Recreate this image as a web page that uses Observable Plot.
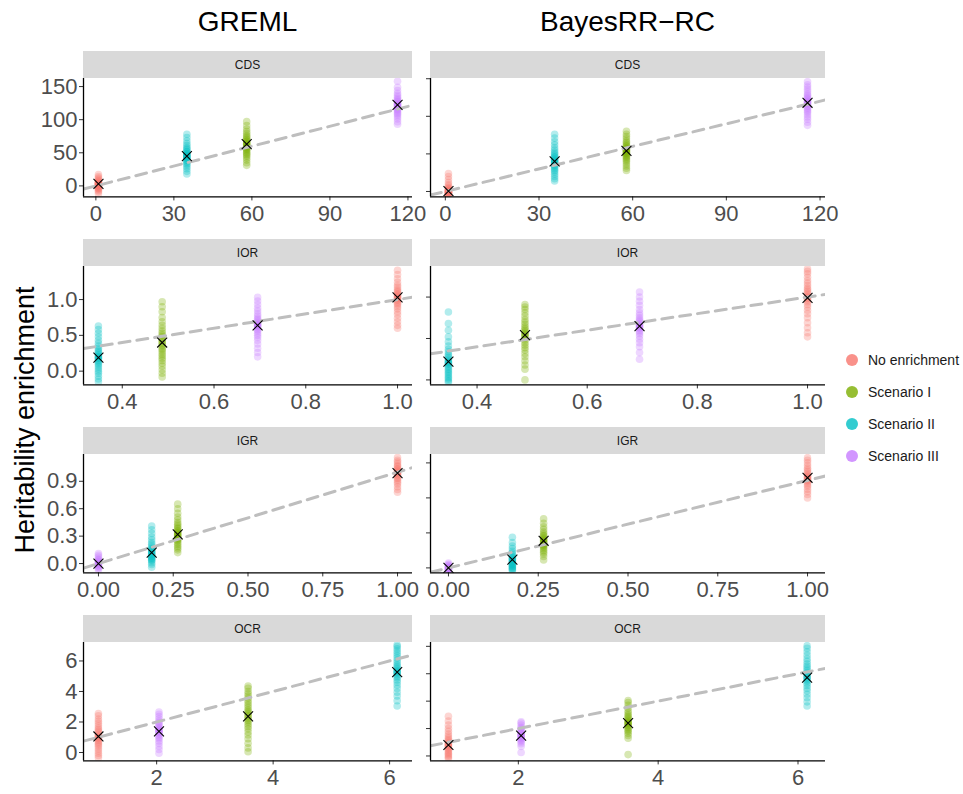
<!DOCTYPE html>
<html>
<head>
<meta charset="utf-8">
<script src="https://cdn.jsdelivr.net/npm/d3@7"></script>
<script src="https://cdn.jsdelivr.net/npm/@observablehq/plot@0.6"></script>
<style>
  body { margin: 0; background: #fff; }
  #chart { position: relative; width: 963px; height: 794px; overflow: hidden;
           font-family: "Liberation Sans", Arial, Helvetica, sans-serif; background: #fff; }
  .title { position: absolute; font-size: 28px; color: #000; transform: translateX(-50%); white-space: nowrap; }
  .ytitle { position: absolute; font-size: 27px; color: #000; white-space: nowrap;
            transform: translate(-50%, -50%) rotate(-90deg); }
  .strip { position: absolute; background: #D9D9D9; color: #1A1A1A; font-size: 12px;
           display: flex; align-items: center; justify-content: center; }
  .legend-row { position: absolute; display: flex; align-items: center; font-size: 14px; color: #1A1A1A; white-space: nowrap; }
  .legend-dot { width: 12px; height: 12px; border-radius: 50%; margin-right: 10px; opacity: 0.8; }
</style>
</head>
<body>
<div id="chart"></div>
<script>
// ---- categories -----------------------------------------------------------
const methods = ["GREML", "BayesRR−RC"];
const annotations = ["CDS", "IOR", "IGR", "OCR"];
const scenarios = ["No enrichment", "Scenario I", "Scenario II", "Scenario III"];
const palette = ["#F8766D", "#7CAE00", "#00BFC4", "#C77CFF"];

// ---- expected enrichment per scenario (order of `scenarios`) ---------------
const expectedCDS = [1, 58, 35, 116];
const expectedIOR = [1.0, 0.487, 0.348, 0.695];
const expectedIGR = [1.0, 0.265, 0.178, 0.0];
const expectedOCR = [1.0, 3.57, 6.13, 2.04];

// ---- replicate estimates, one list per scenario ---------------------------
const gremlCDS = [
  [-12, -9, -7, -5, -4, -3, -2, -1, 0, 0, 1, 1, 2, 2, 3, 3, 4, 4, 5, 6, 7, 8, 10, 12, 14, 17],
  [31, 35, 39, 42, 45, 47, 49, 51, 53, 55, 56, 58, 59, 60, 62, 63, 64, 65, 67, 68, 70, 72, 74, 76, 79, 82, 86, 91, 97],
  [18, 22, 26, 29, 32, 34, 36, 38, 39, 41, 42, 43, 44, 45, 46, 47, 48, 49, 51, 52, 54, 56, 58, 61, 64, 68, 73, 78],
  [93, 97, 101, 104, 107, 109, 111, 113, 115, 116, 118, 119, 120, 121, 122, 123, 124, 125, 127, 128, 130, 132, 134, 137, 140, 144, 149, 158]
];
const gremlCDSMean = [3, 63, 45, 122.5];

const bayesCDS = [
  [-4.5, -4, -3.5, -3, -2.5, -2, -1.5, -1, -0.5, 0, 0, 0.5, 1, 1.5, 2, 3, 4, 5, 7, 9, 12, 16, 20, 24],
  [28, 31, 34, 37, 40, 42, 44, 46, 47, 49, 50, 51, 52, 53, 54, 55, 56, 57, 58, 60, 61, 63, 65, 67, 70, 73, 76, 80],
  [14, 17, 20, 23, 26, 28, 30, 32, 34, 35, 37, 38, 39, 40, 41, 42, 43, 45, 46, 48, 50, 52, 55, 58, 62, 66, 71, 76],
  [88, 92, 96, 99, 102, 105, 107, 109, 111, 113, 114, 116, 117, 118, 119, 120, 121, 123, 124, 126, 128, 130, 133, 136, 139, 142, 146]
];
const bayesCDSMean = [0.5, 54, 40, 118];

const gremlIOR = [
  [0.60, 0.64, 0.69, 0.74, 0.79, 0.83, 0.87, 0.9, 0.93, 0.95, 0.97, 0.99, 1.0, 1.02, 1.03, 1.04, 1.05, 1.07, 1.08, 1.1, 1.12, 1.14, 1.17, 1.2, 1.24, 1.29, 1.35, 1.41],
  [-0.08, -0.03, 0.02, 0.07, 0.11, 0.15, 0.18, 0.21, 0.24, 0.27, 0.3, 0.32, 0.35, 0.37, 0.39, 0.41, 0.43, 0.45, 0.48, 0.5, 0.53, 0.56, 0.6, 0.64, 0.69, 0.75, 0.83, 0.9, 0.97],
  [-0.15, -0.11, -0.07, -0.03, 0.0, 0.03, 0.06, 0.09, 0.11, 0.13, 0.15, 0.17, 0.18, 0.19, 0.2, 0.21, 0.23, 0.25, 0.27, 0.29, 0.32, 0.35, 0.39, 0.43, 0.48, 0.53, 0.58, 0.63],
  [0.2, 0.26, 0.32, 0.38, 0.43, 0.47, 0.5, 0.53, 0.56, 0.58, 0.6, 0.62, 0.63, 0.64, 0.65, 0.66, 0.68, 0.7, 0.72, 0.74, 0.77, 0.8, 0.84, 0.88, 0.93, 0.98, 1.03]
];
const gremlIORMean = [1.03, 0.40, 0.19, 0.64];

const bayesIOR = [
  [0.52, 0.57, 0.63, 0.69, 0.75, 0.8, 0.84, 0.88, 0.91, 0.94, 0.96, 0.98, 0.99, 1.0, 1.01, 1.03, 1.05, 1.07, 1.09, 1.11, 1.14, 1.17, 1.2, 1.24, 1.28, 1.31, 1.34],
  [0.0, 0.13, 0.18, 0.23, 0.28, 0.32, 0.36, 0.39, 0.42, 0.45, 0.48, 0.5, 0.52, 0.54, 0.55, 0.56, 0.58, 0.6, 0.62, 0.64, 0.67, 0.7, 0.73, 0.77, 0.81, 0.85, 0.88, 0.91],
  [-0.03, -0.01, 0.01, 0.03, 0.05, 0.07, 0.09, 0.11, 0.13, 0.15, 0.17, 0.19, 0.2, 0.21, 0.22, 0.23, 0.25, 0.27, 0.29, 0.31, 0.34, 0.37, 0.41, 0.46, 0.52, 0.6, 0.68, 0.82],
  [0.25, 0.33, 0.4, 0.45, 0.49, 0.53, 0.56, 0.58, 0.6, 0.62, 0.63, 0.64, 0.65, 0.66, 0.67, 0.69, 0.71, 0.73, 0.75, 0.78, 0.81, 0.85, 0.9, 0.95, 1.0, 1.06]
];
const bayesIORMean = [0.99, 0.54, 0.22, 0.65];

const gremlIGR = [
  [0.78, 0.81, 0.84, 0.87, 0.89, 0.91, 0.93, 0.94, 0.96, 0.97, 0.98, 0.99, 1.0, 1.01, 1.02, 1.03, 1.04, 1.06, 1.07, 1.09, 1.11, 1.13, 1.16],
  [0.12, 0.15, 0.17, 0.19, 0.21, 0.23, 0.25, 0.26, 0.27, 0.28, 0.29, 0.3, 0.31, 0.32, 0.33, 0.34, 0.35, 0.36, 0.38, 0.39, 0.41, 0.43, 0.45, 0.48, 0.51, 0.55, 0.6, 0.65],
  [-0.04, -0.01, 0.01, 0.03, 0.04, 0.05, 0.06, 0.07, 0.08, 0.09, 0.1, 0.11, 0.12, 0.13, 0.14, 0.15, 0.16, 0.17, 0.19, 0.21, 0.23, 0.26, 0.29, 0.33, 0.37, 0.41],
  [-0.07, -0.05, -0.04, -0.03, -0.02, -0.01, 0.0, 0.0, 0.01, 0.02, 0.03, 0.04, 0.05, 0.07, 0.09, 0.11]
];
const gremlIGRMean = [0.99, 0.32, 0.12, 0.0];

const bayesIGR = [
  [0.8, 0.84, 0.87, 0.9, 0.93, 0.95, 0.97, 0.99, 1.0, 1.01, 1.02, 1.03, 1.04, 1.05, 1.06, 1.08, 1.1, 1.12, 1.14, 1.17, 1.2, 1.23, 1.26],
  [0.09, 0.13, 0.16, 0.18, 0.2, 0.22, 0.24, 0.25, 0.26, 0.27, 0.28, 0.29, 0.3, 0.31, 0.32, 0.33, 0.34, 0.36, 0.37, 0.39, 0.41, 0.44, 0.47, 0.51, 0.56],
  [-0.03, -0.02, -0.01, 0.0, 0.01, 0.02, 0.03, 0.04, 0.05, 0.06, 0.07, 0.08, 0.09, 0.1, 0.11, 0.12, 0.13, 0.15, 0.17, 0.19, 0.22, 0.25, 0.29, 0.35],
  [-0.045, -0.035, -0.025, -0.015, -0.01, 0.0, 0.0, 0.005, 0.01, 0.02, 0.03, 0.04, 0.055]
];
const bayesIGRMean = [1.03, 0.31, 0.095, 0.0];

const gremlOCR = [
  [-0.35, -0.2, -0.05, 0.1, 0.25, 0.4, 0.5, 0.6, 0.7, 0.8, 0.9, 0.95, 1.0, 1.05, 1.1, 1.2, 1.3, 1.4, 1.5, 1.6, 1.75, 1.9, 2.05, 2.2, 2.4, 2.55],
  [0.05, 0.3, 0.6, 0.9, 1.15, 1.35, 1.55, 1.7, 1.85, 2.0, 2.1, 2.2, 2.3, 2.4, 2.5, 2.6, 2.7, 2.8, 2.95, 3.1, 3.25, 3.4, 3.55, 3.7, 3.85, 4.0, 4.2, 4.35],
  [3.05, 3.4, 3.7, 3.95, 4.2, 4.4, 4.6, 4.75, 4.9, 5.0, 5.1, 5.2, 5.25, 5.3, 5.35, 5.45, 5.55, 5.65, 5.75, 5.9, 6.05, 6.2, 6.35, 6.5, 6.65, 6.8, 6.95, 7.05],
  [-0.05, 0.2, 0.4, 0.6, 0.75, 0.9, 1.0, 1.1, 1.2, 1.28, 1.35, 1.4, 1.45, 1.5, 1.57, 1.65, 1.75, 1.85, 1.95, 2.05, 2.2, 2.35, 2.5, 2.65]
];
const gremlOCRMean = [1.05, 2.37, 5.27, 1.38];

const bayesOCR = [
  [-0.2, -0.1, 0.0, 0.1, 0.2, 0.3, 0.4, 0.5, 0.6, 0.68, 0.75, 0.8, 0.85, 0.9, 1.0, 1.1, 1.2, 1.3, 1.45, 1.6, 1.8, 2.0, 2.25, 2.55, 2.9],
  [0.1, 1.3, 1.5, 1.65, 1.8, 1.9, 2.0, 2.1, 2.2, 2.28, 2.35, 2.4, 2.45, 2.5, 2.6, 2.7, 2.8, 2.9, 3.0, 3.15, 3.3, 3.5, 3.7, 3.9, 4.05],
  [3.65, 3.95, 4.25, 4.5, 4.75, 4.95, 5.15, 5.3, 5.45, 5.55, 5.65, 5.72, 5.8, 5.9, 6.0, 6.1, 6.25, 6.4, 6.55, 6.7, 6.9, 7.1, 7.35, 7.6, 7.85, 8.05],
  [0.25, 0.7, 0.9, 1.02, 1.12, 1.2, 1.28, 1.35, 1.42, 1.47, 1.52, 1.58, 1.65, 1.72, 1.8, 1.9, 2.0, 2.1, 2.25, 2.4, 2.5]
];
const bayesOCRMean = [0.8, 2.39, 5.72, 1.49];

// ---- axis limits and ticks ------------------------------------------------
const xLimCDS = [-4.75, 121.75];
const xLimIOR = [0.3155, 1.0326];
const xLimIGR = [-0.05, 1.05];
const xLimOCR = [0.744, 6.393];

const xTicksCDS = [0, 30, 60, 90, 120];
const xTicksIOR = [0.4, 0.6, 0.8, 1.0];
const xTicksIGR = [0, 0.25, 0.5, 0.75, 1];
const xTicksOCR = [2, 4, 6];

const yLimGremlCDS = [-16.6, 162.2];
const yLimBayesCDS = [-7.2, 150.3];
const yLimGremlIOR = [-0.192, 1.462];
const yLimBayesIOR = [-0.06, 1.369];
const yLimGremlIGR = [-0.102, 1.193];
const yLimBayesIGR = [-0.057, 1.296];
const yLimGremlOCR = [-0.55, 7.21];
const yLimBayesOCR = [-0.36, 8.28];

const yTicksGremlCDS = [0, 50, 100, 150];
const yTicksBayesCDS = [0, 50, 100, 150];
const yTicksGremlIOR = [0, 0.5, 1];
const yTicksBayesIOR = [0, 0.5, 1];
const yTicksGremlIGR = [0, 0.3, 0.6, 0.9];
const yTicksBayesIGR = [0, 0.4, 0.8, 1.2];
const yTicksGremlOCR = [0, 2, 4, 6];
const yTicksBayesOCR = [0, 2, 4, 6, 8];

// ---- panel specs ----------------------------------------------------------
const panels = [
  {row: 0, col: 0, est: gremlCDS, means: gremlCDSMean, expected: expectedCDS, xLim: xLimCDS, yLim: yLimGremlCDS, xTicks: xTicksCDS, yTicks: yTicksGremlCDS, xFmt: "d", yFmt: "d"},
  {row: 0, col: 1, est: bayesCDS, means: bayesCDSMean, expected: expectedCDS, xLim: xLimCDS, yLim: yLimBayesCDS, xTicks: xTicksCDS, yTicks: yTicksBayesCDS, xFmt: "d", yFmt: "d"},
  {row: 1, col: 0, est: gremlIOR, means: gremlIORMean, expected: expectedIOR, xLim: xLimIOR, yLim: yLimGremlIOR, xTicks: xTicksIOR, yTicks: yTicksGremlIOR, xFmt: ".1f", yFmt: ".1f"},
  {row: 1, col: 1, est: bayesIOR, means: bayesIORMean, expected: expectedIOR, xLim: xLimIOR, yLim: yLimBayesIOR, xTicks: xTicksIOR, yTicks: yTicksBayesIOR, xFmt: ".1f", yFmt: ".1f"},
  {row: 2, col: 0, est: gremlIGR, means: gremlIGRMean, expected: expectedIGR, xLim: xLimIGR, yLim: yLimGremlIGR, xTicks: xTicksIGR, yTicks: yTicksGremlIGR, xFmt: ".2f", yFmt: ".1f"},
  {row: 2, col: 1, est: bayesIGR, means: bayesIGRMean, expected: expectedIGR, xLim: xLimIGR, yLim: yLimBayesIGR, xTicks: xTicksIGR, yTicks: yTicksBayesIGR, xFmt: ".2f", yFmt: ".1f"},
  {row: 3, col: 0, est: gremlOCR, means: gremlOCRMean, expected: expectedOCR, xLim: xLimOCR, yLim: yLimGremlOCR, xTicks: xTicksOCR, yTicks: yTicksGremlOCR, xFmt: "d", yFmt: "d"},
  {row: 3, col: 1, est: bayesOCR, means: bayesOCRMean, expected: expectedOCR, xLim: xLimOCR, yLim: yLimBayesOCR, xTicks: xTicksOCR, yTicks: yTicksBayesOCR, xFmt: "d", yFmt: "d"}
];

// ---- layout ---------------------------------------------------------------
const chart = document.getElementById("chart");
const rowTop = [51, 239, 427, 615];
const stripH = 27.3, panelH = 118.4;
const colLeft = [83, 430], colWidth = [329, 395];

function addDiv(cls, text, style) {
  const d = document.createElement("div");
  d.className = cls;
  if (text != null) d.textContent = text;
  Object.assign(d.style, style);
  chart.appendChild(d);
  return d;
}

// column titles
methods.forEach((m, c) => addDiv("title", m, {left: (colLeft[c] + colWidth[c] / 2) + "px", top: "6px"}));
// y-axis title
addDiv("ytitle", "Heritability enrichment", {left: "25px", top: "420px"});

for (const p of panels) {
  const left = colLeft[p.col], w = colWidth[p.col];
  const top = rowTop[p.row] + stripH;

  const mL = p.col === 0 ? 83 : 12;
  const mR = 24, mT = 12, mB = 34;
  const pts = p.est.flatMap((vals, i) => vals.map(v => ({x: p.expected[i], y: v, s: scenarios[i]})));
  const avg = p.means.map((v, i) => ({x: p.expected[i], y: v}));
  const yFormat = p.col === 0 ? d3.format(p.yFmt) : () => "";

  const fig = Plot.plot({
    width: mL + w + mR,
    height: mT + panelH + mB,
    marginLeft: mL, marginRight: mR, marginTop: mT, marginBottom: mB,
    x: {domain: p.xLim, label: null},
    y: {domain: p.yLim, label: null},
    color: {domain: scenarios, range: palette},
    style: {fontFamily: "'Liberation Sans', Arial, Helvetica, sans-serif", fontSize: "22px", background: "transparent", overflow: "visible"},
    marks: [
      Plot.dot(pts, {x: "x", y: "y", fill: "s", r: 3.8, fillOpacity: 0.3, clip: true}),
      Plot.line(p.xLim, {x: d => d, y: d => d, stroke: "#BEBEBE", strokeWidth: 3, strokeDasharray: "11,7", clip: true}),
      Plot.dot(avg, {x: "x", y: "y", symbol: "times", r: 4.6, stroke: "#000", strokeWidth: 1.1}),
      Plot.axisX({ticks: p.xTicks, tickFormat: d3.format(p.xFmt), tickSize: 4, tickPadding: 4, fontSize: 22, stroke: "#333", fill: "#4D4D4D"}),
      Plot.axisY({ticks: p.yTicks, tickFormat: yFormat, tickSize: 4, tickPadding: 2, fontSize: 22, stroke: "#333", fill: "#4D4D4D"}),
      Plot.ruleX([p.xLim[0]], {stroke: "#000", strokeWidth: 1.3}),
      Plot.ruleY([p.yLim[0]], {stroke: "#000", strokeWidth: 1.3})
    ]
  });
  fig.style.position = "absolute";
  fig.style.left = (left - mL) + "px";
  fig.style.top = (top - mT) + "px";
  chart.appendChild(fig);

  // facet strip, drawn over the panel's top margin
  addDiv("strip", annotations[p.row], {left: left + "px", top: rowTop[p.row] + "px", width: w + "px", height: stripH + "px"});
}

// legend
scenarios.forEach((s, i) => {
  const row = addDiv("legend-row", null, {left: "846px", top: (351 + i * 32) + "px", height: "18px"});
  const dot = document.createElement("span");
  dot.className = "legend-dot";
  dot.style.background = palette[i];
  const lab = document.createElement("span");
  lab.textContent = s;
  row.appendChild(dot);
  row.appendChild(lab);
});
</script>
</body>
</html>
